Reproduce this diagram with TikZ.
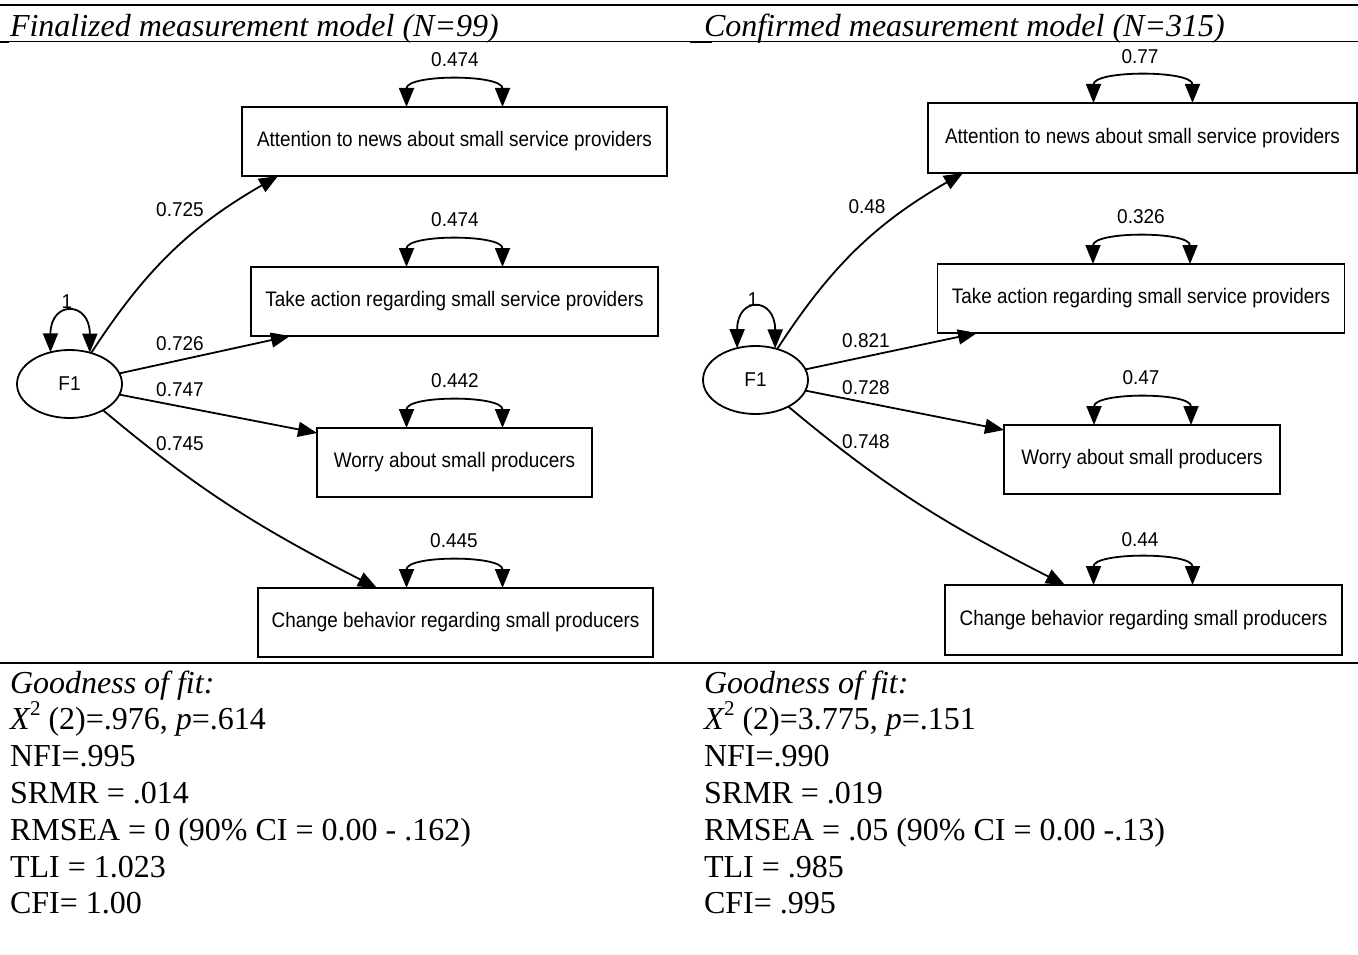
\documentclass[tikz,border=0pt]{standalone}
\usepackage{fontspec}
\setmainfont{Liberation Serif}
\newfontfamily\semfont[FakeStretch=0.9]{Liberation Sans}
\newfontfamily\numfont[FakeStretch=0.95]{Liberation Sans}
\usetikzlibrary{arrows.meta,shapes.geometric}

\newcommand{\chisup}{\textit{X}\kern-0.5pt\raisebox{0.42em}{\fontsize{21}{21}\selectfont 2}}

\begin{document}
\begin{tikzpicture}[x=1pt,y=-1pt,
  every node/.style={inner sep=0pt, outer sep=0pt},
  indicator/.style={draw, line width=1.8pt, minimum height=69pt,
    font=\semfont\fontsize{21}{24}\selectfont},
  latent/.style={ellipse, draw, line width=1.8pt, minimum width=105pt,
    minimum height=68pt, font=\numfont\fontsize{20}{23}\selectfont},
  coef/.style={font=\numfont\fontsize{20}{23}\selectfont},
  load/.style={-{Triangle[length=19pt,width=15pt]}, line width=1.8pt},
  covar/.style={{Triangle[length=19pt,width=15pt]}-{Triangle[length=19pt,width=15pt]},
    line width=1.8pt},
  head/.style={anchor=base west, font=\fontsize{32}{36}\selectfont\itshape},
  fitline/.style={anchor=base west, font=\fontsize{32}{36}\selectfont}
]
\useasboundingbox (0,0) rectangle (1358,955);

% table rules
\draw[line width=2.5pt] (0,5) -- (1358,5);
\draw[line width=1pt] (0,42) -- (1358,42);
\draw[line width=2.5pt] (0,42) -- (9,42) (690,42) -- (712,42);
\draw[line width=1.8pt] (0,663) -- (672,663);
\draw[line width=2.8pt] (0,663) -- (9,663) (672,663) -- (1358,663);

% column headings
\node[head] (hdl) at (10,37) {Finalized measurement model (N=99)};
\node[head] (hdr) at (704,37) {Confirmed measurement model (N=315)};

% ---------- left model ----------
\node[latent] (F1) at (69.5,384) {F1};
\node[indicator, minimum width=425pt] (A1) at (454.5,141.5) {Attention to news about small service providers};
\node[indicator, minimum width=407pt] (T1) at (454.5,301.5) {Take action regarding small service providers};
\node[indicator, minimum width=275pt] (W1) at (454.5,462.5) {Worry about small producers};
\node[indicator, minimum width=395pt] (C1) at (455.5,622.5) {Change behavior regarding small producers};

\draw[load] (F1.55) to[out=57,in=-150] ([xshift=-176.5pt]A1.south);
\draw[load] (F1.12) -- ([xshift=-164.5pt]T1.south);
\draw[load] (F1.-12) -- ([yshift=29.5pt]W1.west);
\draw[load] (F1.-38) to[out=-40,in=153] ([xshift=-78.5pt]C1.north);

\draw[covar] (F1.121) .. controls +(0,-52) and +(0,-52) .. (F1.57);
\draw[covar] ([xshift=-48pt]A1.north) .. controls +(0,-33) and +(0,-33) .. ([xshift=48pt]A1.north);
\draw[covar] ([xshift=-48pt]T1.north) .. controls +(0,-33) and +(0,-33) .. ([xshift=48pt]T1.north);
\draw[covar] ([xshift=-48pt]W1.north) .. controls +(0,-33) and +(0,-33) .. ([xshift=48pt]W1.north);
\draw[covar] ([xshift=-49pt]C1.north) .. controls +(0,-33) and +(0,-33) .. ([xshift=47pt]C1.north);

\node[coef] (lv1) at (67,302) {1};
\node[coef] (la1) at (180,210) {0.725};
\node[coef] (lt1) at (180,344) {0.726};
\node[coef] (lw1) at (180,390) {0.747};
\node[coef] (lc1) at (180,444) {0.745};
\node[coef] (ea1) at (455,60) {0.474};
\node[coef] (et1) at (455,220) {0.474};
\node[coef] (ew1) at (455,381) {0.442};
\node[coef] (ec1) at (454,541) {0.445};

% ---------- right model ----------
\node[latent] (F2) at (755.5,380) {F1};
\node[indicator, minimum width=429pt, minimum height=70pt] (A2) at (1142.5,138) {Attention to news about small service providers};
\node[indicator, minimum width=407pt] (T2) at (1141,298.5) {Take action regarding small service providers};
\node[indicator, minimum width=276pt] (W2) at (1142,459.5) {Worry about small producers};
\node[indicator, minimum width=397pt, minimum height=70pt] (C2) at (1143.5,620) {Change behavior regarding small producers};

\draw[load] (F2.55) to[out=57,in=-150] ([xshift=-179.5pt]A2.south);
\draw[load] (F2.12) -- ([xshift=-164pt]T2.south);
\draw[load] (F2.-12) -- ([yshift=29.5pt]W2.west);
\draw[load] (F2.-39) to[out=-40,in=153] ([xshift=-78.5pt]C2.north);

\draw[covar] (F2.120) .. controls +(0,-52) and +(0,-52) .. (F2.58);
\draw[covar] ([xshift=-49pt]A2.north) .. controls +(0,-33) and +(0,-33) .. ([xshift=50pt]A2.north);
\draw[covar] ([xshift=-48pt]T2.north) .. controls +(0,-33) and +(0,-33) .. ([xshift=49pt]T2.north);
\draw[covar] ([xshift=-48pt]W2.north) .. controls +(0,-33) and +(0,-33) .. ([xshift=49pt]W2.north);
\draw[covar] ([xshift=-50pt]C2.north) .. controls +(0,-33) and +(0,-33) .. ([xshift=49pt]C2.north);

\node[coef] (lv2) at (753,300) {1};
\node[coef] (la2) at (867,207) {0.48};
\node[coef] (lt2) at (866,341) {0.821};
\node[coef] (lw2) at (866,388) {0.728};
\node[coef] (lc2) at (866,442) {0.748};
\node[coef] (ea2) at (1140,57) {0.77};
\node[coef] (et2) at (1141,217) {0.326};
\node[coef] (ew2) at (1141,378) {0.47};
\node[coef] (ec2) at (1140,540) {0.44};

% ---------- fit statistics ----------
\node[fitline] (g1) at (10,693) {\textit{Goodness of fit:}};
\node[fitline] (g2) at (10,729) {\chisup\ (2)=.976, \textit{p}=.614};
\node[fitline] (g3) at (10,766) {NFI=.995};
\node[fitline] (g4) at (10,803) {SRMR = .014};
\node[fitline] (g5) at (10,840) {RMSEA = 0 (90\% CI = 0.00 - .162)};
\node[fitline] (g6) at (10,877) {TLI = 1.023};
\node[fitline] (g7) at (10,913) {CFI= 1.00};

\node[fitline] (h1) at (704,693) {\textit{Goodness of fit:}};
\node[fitline] (h2) at (704,729) {\chisup\ (2)=3.775, \textit{p}=.151};
\node[fitline] (h3) at (704,766) {NFI=.990};
\node[fitline] (h4) at (704,803) {SRMR = .019};
\node[fitline] (h5) at (704,840) {RMSEA = .05 (90\% CI = 0.00 -.13)};
\node[fitline] (h6) at (704,877) {TLI = .985};
\node[fitline] (h7) at (704,913) {CFI= .995};
\end{tikzpicture}
\end{document}
